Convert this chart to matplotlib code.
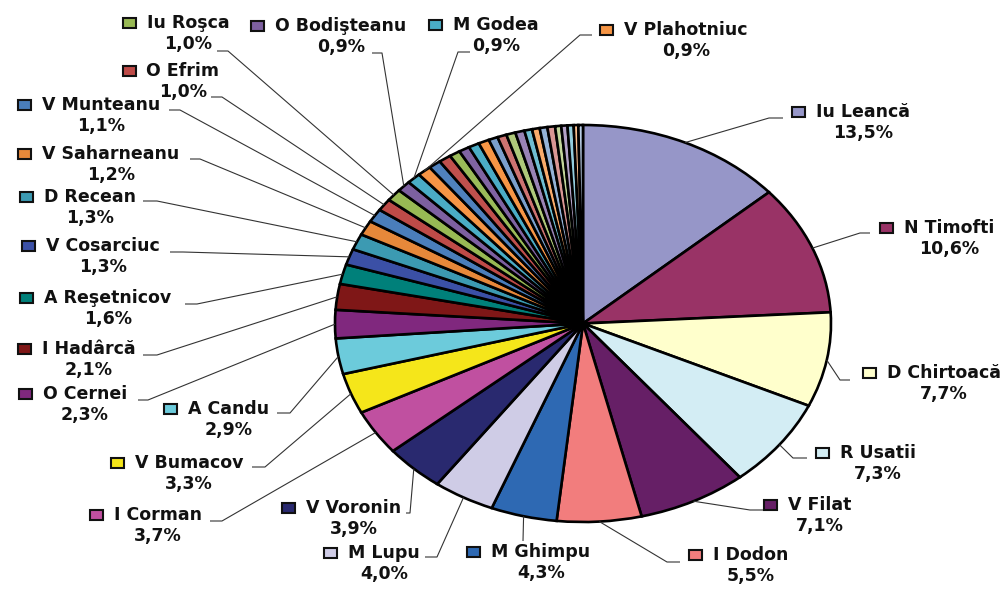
import numpy as np
import matplotlib
matplotlib.use('Agg')
import matplotlib.pyplot as plt
from matplotlib.patches import Rectangle

W, H = 1005, 597

# ── Data ──────────────────────────────────────────────────
names = ['Iu Leancă', 'N Timofti', 'D Chirtoacă', 'R Usatii', 'V Filat',
         'I Dodon', 'M Ghimpu', 'M Lupu', 'V Voronin', 'I Corman',
         'V Bumacov', 'A Candu', 'O Cernei', 'I Hadârcă', 'A Reşetnicov',
         'V Cosarciuc', 'D Recean', 'V Saharneanu', 'V Munteanu', 'O Efrim',
         'Iu Roşca', 'O Bodişteanu', 'M Godea', 'V Plahotniuc']
shares = [13.5, 10.6, 7.7, 7.3, 7.1, 5.5, 4.3, 4.0, 3.9, 3.7, 3.3, 2.9,
          2.3, 2.1, 1.6, 1.3, 1.3, 1.2, 1.1, 1.0, 1.0, 0.9, 0.9, 0.9]
# unlabeled small slices near the top
others = [0.8, 0.8, 0.7, 0.7, 0.7, 0.7, 0.6, 0.6, 0.6, 0.6,
          0.5, 0.5, 0.5, 0.5, 0.4, 0.4, 0.4, 0.3, 0.3]

colors = ['#9696C8', '#993366', '#FFFFCC', '#D3EDF4', '#661F66', '#F27D7D',
          '#2E69B3', '#CFCCE6', '#29296F', '#C050A0', '#F5E61A', '#6CCBDB',
          '#80287E', '#7F1717', '#00807A', '#3B50A6', '#3C9AB2', '#E6883A',
          '#4A7EBB', '#BE4B48', '#98B954', '#7D60A0', '#4AACC5', '#F69545']
other_colors = ['#4F81BD', '#C0504D', '#9BBB59', '#8064A2', '#4BACC6', '#F79646',
                '#7BA0CD', '#CD7371', '#AFC97A', '#9983B5', '#6FBDD1', '#F9AB6B',
                '#95B3D7', '#D99694', '#C3D69B', '#B3A2C7', '#93CDDD', '#FAC090',
                '#B9CDE5']

# ── Label layout (pixels): text centre x, name y, line end x, y, elbow dx ──
LABEL_POS = {
    'Iu Leancă':    (863, 112, 783, 118, -14),
    'N Timofti':    (949, 228, 870, 233, -10),
    'D Chirtoacă':  (944, 373, 850, 380, -10),
    'R Usatii':     (878, 453, 807, 458, -14),
    'V Filat':      (820, 505, 763, 510, -13),
    'I Dodon':      (751, 555, 680, 562, -13),
    'M Ghimpu':     (541, 552, 523, 541, 0),
    'M Lupu':       (384, 553, 425, 557, 12),
    'V Voronin':    (354, 508, 406, 513, 4),
    'I Corman':     (158, 515, 210, 521, 12),
    'V Bumacov':    (189, 463, 252, 467, 13),
    'A Candu':      (229, 409, 277, 413, 13),
    'O Cernei':     (85, 394, 138, 400, 10),
    'I Hadârcă':    (89, 349, 143, 355, 14),
    'A Reşetnicov': (108, 298, 185, 304, 12),
    'V Cosarciuc':  (103, 246, 170, 252, 13),
    'D Recean':     (90, 197, 143, 201, 14),
    'V Saharneanu': (111, 154, 190, 159, 10),
    'V Munteanu':   (101, 105, 169, 110, 11),
    'O Efrim':      (183, 71, 211, 97, 11),
    'Iu Roşca':     (188, 23, 217, 51, 11),
    'O Bodişteanu': (341, 26, 372, 53, 10),
    'M Godea':      (496, 25, 470, 52, -12),
    'V Plahotniuc': (686, 30, 592, 35, -12),
}

PIE_BOX = (335, 125, 831, 522)   # left, top, right, bottom in pixels
FONT = dict(family='DejaVu Sans', weight='bold', size=12.5, color='#111111')


def main():
    fig = plt.figure(figsize=(W / 100, H / 100), dpi=100)
    fig.patch.set_facecolor('white')

    l, t, r, b = PIE_BOX
    ax_pie = fig.add_axes([l / W, (H - b) / H, (r - l) / W, (b - t) / H])
    wedges, _ = ax_pie.pie(shares + others, colors=colors + other_colors,
                           startangle=90, counterclock=False,
                           wedgeprops=dict(edgecolor='black', linewidth=1.9))
    ax_pie.set_aspect('auto')
    ax_pie.set_xlim(-1, 1)
    ax_pie.set_ylim(-1, 1)
    ax_pie.axis('off')
    for w in wedges:
        w.set_clip_on(False)

    ov = fig.add_axes([0, 0, 1, 1], zorder=3)
    ov.set_xlim(0, W)
    ov.set_ylim(H, 0)
    ov.axis('off')
    inv = ov.transData.inverted()

    texts = []
    for w, name, val, col in zip(wedges, names, shares, colors):
        cx, cy, ex, ey, edx = LABEL_POS[name]
        mid = np.deg2rad((w.theta1 + w.theta2) / 2)
        rx, ry = inv.transform(ax_pie.transData.transform((np.cos(mid), np.sin(mid))))
        ov.plot([rx, ex + edx, ex], [ry, ey, ey], color='#333333', lw=0.8,
                solid_capstyle='butt')
        tx = ov.text(cx, cy, name, ha='center', va='center', **FONT)
        ov.text(cx, cy + 21, f'{val:.1f}%'.replace('.', ','),
                ha='center', va='center', **FONT)
        texts.append((tx, cy, col))

    fig.canvas.draw()
    for tx, cy, col in texts:
        x0 = inv.transform(tx.get_window_extent().get_points())[0][0]
        ov.add_patch(Rectangle((x0 - 24, cy - 5), 13, 10, facecolor=col,
                               edgecolor='#111111', lw=1.5))

    fig.savefig('out.png', dpi=100)


if __name__ == '__main__':
    main()
